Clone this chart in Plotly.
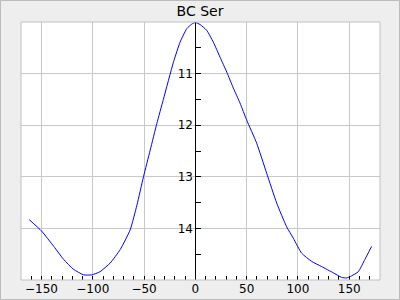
import plotly.graph_objects as go

title_text = "BC Ser"
phase = [-162, -150, -138, -128.5, -119, -109, -101, -93, -83, -73.3, -63.6, -57, -50.6,
         -44, -37.6, -31.2, -21.4, -14.9, -8.4, -3.5, 0, 4.6, 11, 17.5, 24, 30.6, 37,
         43.5, 50, 59.8, 69.5, 79.3, 89, 95.5, 103.6, 113.4, 123.1, 134.4, 142.6, 147.5,
         152.3, 158.8, 165.3, 171.8]
mag = [13.83, 14.05, 14.35, 14.6, 14.79, 14.9, 14.9, 14.84, 14.67, 14.41, 14.03, 13.55, 13.0,
       12.48, 11.97, 11.5, 10.78, 10.39, 10.13, 10.04, 10.01, 10.05, 10.16, 10.39, 10.68, 10.97, 11.28,
       11.57, 11.9, 12.35, 12.93, 13.51, 13.97, 14.19, 14.48, 14.64, 14.74, 14.86, 14.95, 14.96,
       14.92, 14.84, 14.6, 14.35]
x_ticks = [-150, -100, -50, 0, 50, 100, 150]
y_ticks = [11, 12, 13, 14]

L, R, T, B = 21, 20, 22, 20
W, H = 400, 300
pw, ph = W - L - R, H - T - B

fig = go.Figure(go.Scatter(x=phase, y=mag, mode="lines",
                           line=dict(color="#0000ff", width=1, shape="spline", smoothing=0.5),
                           hoverinfo="skip"))

fig.update_layout(
    width=W, height=H,
    margin=dict(l=L, r=R, t=T, b=B, autoexpand=False),
    paper_bgcolor="#eeeeee", plot_bgcolor="#ffffff",
    showlegend=False,
    font=dict(family="DejaVu Sans", size=12, color="#000000"),
    title=dict(text=title_text, x=0.5, xanchor="center", y=1 - 11 / H, yanchor="middle",
               font=dict(family="DejaVu Sans", size=14, color="#000000")),
    xaxis=dict(range=[-170, 180], tickvals=x_ticks, ticks="inside", ticklen=4,
               tickcolor="#000000", showgrid=True, gridcolor="#c8c8c8", gridwidth=1,
               zeroline=False, showline=False, automargin=False,
               minor=dict(dtick=10, ticks="inside", ticklen=4, tickcolor="#000000", showgrid=False),
               tickfont=dict(size=12)),
    yaxis=dict(range=[15, 10], tickvals=y_ticks, ticks="inside", ticklen=5,
               tickcolor="#000000", showgrid=True, gridcolor="#c8c8c8", gridwidth=1,
               zeroline=False, showline=True, linecolor="#000000", linewidth=1,
               anchor="free", position=170 / 350, side="left", automargin=False,
               minor=dict(tickvals=[10.5, 11.5, 12.5, 13.5, 14.5], ticks="inside", ticklen=5,
                          tickcolor="#000000", showgrid=False),
               tickfont=dict(size=12)),
    shapes=[
        dict(type="rect", xref="paper", yref="paper", x0=0, x1=1, y0=0, y1=1,
             line=dict(color="#c0c0c0", width=1), layer="above"),
        dict(type="rect", xref="paper", yref="paper",
             x0=(0.5 - L) / pw, x1=(W - 0.5 - L) / pw,
             y0=(H - B - (H - 0.5)) / ph, y1=(H - B - 0.5) / ph,
             line=dict(color="#bbbbbb", width=1), layer="above"),
    ],
)

fig.write_html("out.html")
